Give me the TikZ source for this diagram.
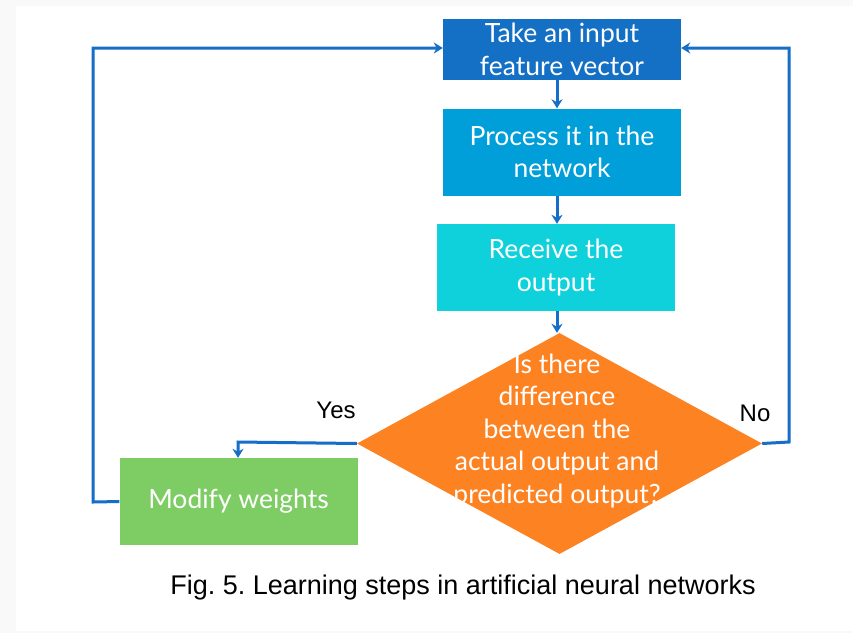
\documentclass[tikz,border=0pt]{standalone}
\usepackage{fontspec}
\setmainfont{Lato}
\newfontfamily\capfont{Liberation Sans}
\usetikzlibrary{shapes.geometric,arrows.meta}

\definecolor{stepA}{HTML}{1470C4}
\definecolor{stepB}{HTML}{009FDA}
\definecolor{stepC}{HTML}{0ED1DB}
\definecolor{decide}{HTML}{FD8222}
\definecolor{modify}{HTML}{7ECC64}
\definecolor{flow}{HTML}{156EC8}

\begin{document}
\frenchspacing
\begin{tikzpicture}[x=1pt,y=-1pt]
	\tikzstyle{Box} = [rectangle, minimum width=238pt, minimum height=87pt, inner sep=0pt, text centered, align=center, text=white, font=\fontsize{26.5}{32.5}\selectfont]
	\tikzstyle{arrow} = [line width=3pt, flow, -{Stealth[length=9pt,width=11pt]}]
	\tikzstyle{Label} = [font=\capfont\fontsize{24}{28}\selectfont, text=black]

	% page
	\fill [gray!5] (0,0) rectangle (853,633);
	\fill [white] (16,6) rectangle (853,631);

	\node (take) [Box, fill=stepA, minimum height=61pt] at (562,49.5) {Take an input\\feature vector};
	\node (process) [Box, fill=stepB] at (562,152) {Process it in the\\network};
	\node (receive) [Box, fill=stepC] at (556,267.5) {Receive the\\output};
	\node (diff) [diamond, fill=decide, minimum width=405pt, minimum height=221pt, inner sep=0pt] at (559.5,443.5) {};
	\node (q) [text=white, align=center, font=\fontsize{26.5}{32.5}\selectfont] at (557,431) {Is there\\difference\\between the\\actual output and\\predicted output?};
	\node (mod) [Box, fill=modify] at (238.5,501.5) {Modify weights};

	\coordinate (yesc) at (238,442);
	\coordinate (lc1) at (93,502);
	\coordinate (lc2) at (93,48);
	\coordinate (rc1) at (789,442);
	\coordinate (rc2) at (789,48);

	% main flow
	\draw [arrow] (take.south -| 557,0) -- (process.north -| 557,0);
	\draw [arrow] (process.south -| 557,0) -- (receive.north -| 557,0);
	\draw [arrow] (receive.south -| 557,0) -- (diff.north -| 557,0);

	% yes / no
	\draw [arrow] (diff.west) -- (yesc) -- (mod.north -| yesc);
	\draw [arrow] (mod.west) -- (lc1) -- (lc2) -- (take.west |- lc2);
	\draw [arrow] (diff.east) -- (rc1) -- (rc2) -- (take.east |- rc2);

	\node (yes) [Label] at (336,410) {Yes};
	\node (no) [Label] at (755,413) {No};

	\node (cap) [font=\capfont\fontsize{27}{32}\selectfont, text=black] at (463,588) {Fig. 5. Learning steps in artificial neural networks};
\end{tikzpicture}
\end{document}
